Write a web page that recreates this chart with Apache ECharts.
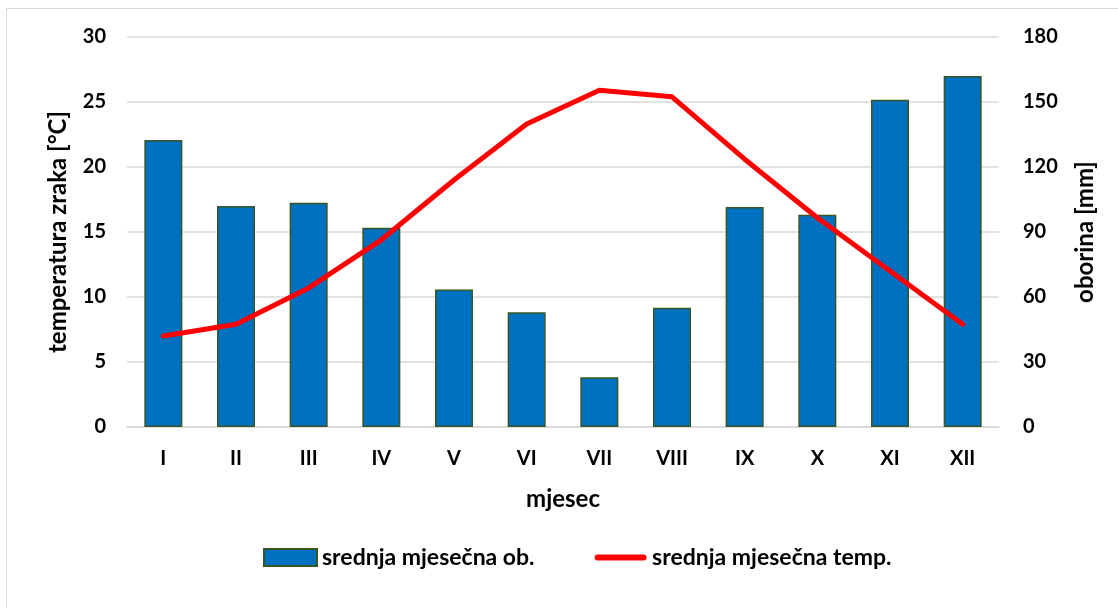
<!DOCTYPE html>
<html>
<head>
<meta charset="utf-8">
<script src="https://cdn.jsdelivr.net/npm/echarts@6/dist/echarts.min.js"></script>
<style>
  * { margin: 0; padding: 0; }
  body { background: #fff; width: 1118px; height: 608px; overflow: hidden; position: relative; }
  #frame { position: absolute; left: 6px; top: 8px; width: 1200px; height: 700px; border: 1.5px solid #d9d9d9; }
  #chart { position: absolute; left: 0; top: 0; width: 1118px; height: 608px; }
</style>
</head>
<body>
<div id="frame"></div>
<div id="chart"></div>
<script>
// months
var mjeseci = ['I', 'II', 'III', 'IV', 'V', 'VI', 'VII', 'VIII', 'IX', 'X', 'XI', 'XII']
// mean monthly precipitation [mm], right axis
var oborina = [132.5, 102, 103.5, 92, 63.5, 53, 23, 55, 101.5, 98, 151, 162]
// mean monthly air temperature [°C], left axis
var temperatura = [7.0, 7.9, 10.7, 14.4, 19.0, 23.3, 25.9, 25.4, 20.6, 16.1, 12.0, 7.9]

var font = 'Lato, "Liberation Sans", sans-serif'
var label = { color: '#000', fontFamily: font, fontWeight: 'bold', fontSize: 20 }
var nameStyle = { color: '#000', fontFamily: font, fontWeight: 'bold', fontSize: 24 }

// thick line legend icon, padded to the 17px item height
var lineIcon = 'path://M0,0 L0.01,0 L0,0.01 Z M3,5.5 L49,5.5 A3,3 0 0 1 49,11.5 L3,11.5 A3,3 0 0 1 3,5.5 Z M0,17 L0.01,17 L0,16.99 Z'

var chart = echarts.init(document.getElementById('chart'))
chart.setOption({
  animation: false,
  grid: { left: 127, right: 119, top: 37, bottom: 181 },
  legend: {
    bottom: 39,
    left: 263,
    padding: 0,
    itemGap: 60,
    itemWidth: 53,
    itemHeight: 17,
    textStyle: { color: '#000', fontFamily: font, fontWeight: 'bold', fontSize: 23 },
    data: [
      { name: 'srednja mjesečna ob.', icon: 'rect' },
      { name: 'srednja mjesečna temp.', icon: lineIcon, itemStyle: { color: '#ff0000', borderWidth: 0 } }
    ]
  },
  xAxis: {
    type: 'category',
    data: mjeseci,
    name: 'mjesec',
    nameLocation: 'middle',
    nameGap: 60,
    nameTextStyle: nameStyle,
    axisLine: { lineStyle: { color: '#d9d9d9', width: 1.5 } },
    axisTick: { show: false },
    axisLabel: Object.assign({ margin: 22 }, label)
  },
  yAxis: [
    {
      type: 'value',
      min: 0,
      max: 30,
      interval: 5,
      name: 'temperatura zraka [°C]',
      nameLocation: 'middle',
      nameGap: 57,
      nameTextStyle: nameStyle,
      axisLine: { show: false },
      axisTick: { show: false },
      axisLabel: Object.assign({ margin: 21 }, label),
      splitLine: { lineStyle: { color: '#d9d9d9', width: 1.5 } }
    },
    {
      type: 'value',
      min: 0,
      max: 180,
      interval: 30,
      name: 'oborina [mm]',
      nameLocation: 'middle',
      nameGap: 74,
      nameTextStyle: nameStyle,
      axisLine: { show: false },
      axisTick: { show: false },
      axisLabel: Object.assign({ margin: 24 }, label),
      splitLine: { show: false }
    }
  ],
  series: [
    {
      name: 'srednja mjesečna ob.',
      type: 'bar',
      yAxisIndex: 1,
      data: oborina,
      barWidth: 38,
      itemStyle: { color: '#0070c0', borderColor: '#375623', borderWidth: 1.5 }
    },
    {
      name: 'srednja mjesečna temp.',
      type: 'line',
      yAxisIndex: 0,
      data: temperatura,
      symbol: 'none',
      lineStyle: { color: '#ff0000', width: 5, join: 'round', cap: 'round' },
      itemStyle: { color: '#ff0000' }
    }
  ]
})
</script>
</body>
</html>
